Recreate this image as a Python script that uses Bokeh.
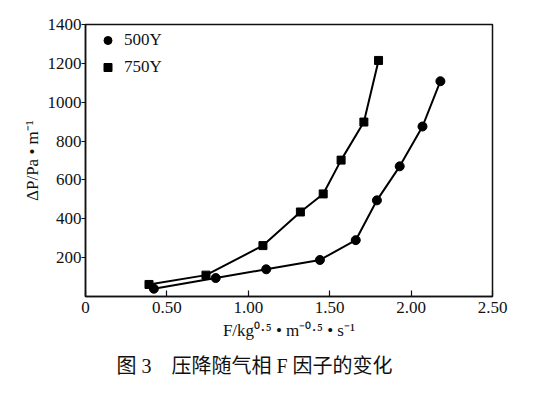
from bokeh.plotting import figure
from bokeh.models import Range1d, FixedTicker, Legend, LegendItem, Title
from bokeh.embed import file_html
from bokeh.resources import INLINE

# ---- data ----
f_500 = [0.42, 0.80, 1.11, 1.44, 1.66, 1.79, 1.93, 2.07, 2.18]
dp_500 = [40, 95, 140, 188, 290, 495, 670, 875, 1108]
f_750 = [0.39, 0.74, 1.09, 1.32, 1.46, 1.57, 1.71, 1.80]
dp_750 = [62, 110, 262, 435, 528, 702, 898, 1215]
series_names = ["500Y", "750Y"]
x_ticks = [0, 0.5, 1.0, 1.5, 2.0, 2.5]
x_tick_labels = ["0", "0.50", "1.00", "1.50", "2.00", "2.50"]
y_ticks = [200, 400, 600, 800, 1000, 1200, 1400]
y_tick_labels = ["200", "400", "600", "800", "1000", "1200", "1400"]
x_title = "F/kg⁰·⁵ • m⁻⁰·⁵ • s⁻¹"
y_title = "ΔP/Pa • m⁻¹"
caption = "图 3\u3000压降随气相 F 因子的变化"

SERIF = "Liberation Serif"
CAPTION_FONT = "Liberation Serif, Noto Sans CJK SC"
INK = "#111111"

p = figure(frame_width=407, frame_height=272,
           min_border_left=85, min_border_top=24,
           min_border_right=44, min_border_bottom=100,
           x_range=Range1d(0, 2.5), y_range=Range1d(0, 1400),
           output_backend="svg", toolbar_location=None, tools="")
p.grid.visible = False
p.outline_line_color = INK
p.outline_line_width = 1.5
p.background_fill_color = "white"
p.border_fill_color = "white"

p.xaxis.ticker = FixedTicker(ticks=x_ticks)
p.xaxis.major_label_overrides = {t: s for t, s in zip(x_ticks, x_tick_labels)}
p.yaxis.ticker = FixedTicker(ticks=y_ticks)
p.yaxis.major_label_overrides = {t: s for t, s in zip(y_ticks, y_tick_labels)}
for ax in (p.xaxis, p.yaxis):
    ax.axis_line_color = INK
    ax.axis_line_width = 1.5
    ax.major_tick_line_color = INK
    ax.major_tick_line_width = 1.2
    ax.minor_tick_line_color = None
    ax.major_label_text_font = SERIF
    ax.major_label_text_font_size = "17px"
    ax.major_label_text_color = INK
    ax.axis_label_text_font = SERIF
    ax.axis_label_text_font_size = "17px"
    ax.axis_label_text_font_style = "normal"
    ax.axis_label_text_color = INK
p.xaxis.major_tick_in = 6
p.xaxis.major_tick_out = 0
p.xaxis.major_label_standoff = 5
p.yaxis.major_tick_in = 0
p.yaxis.major_tick_out = 4
p.yaxis.major_label_standoff = 0
p.xaxis.axis_label = x_title
p.yaxis.axis_label = y_title
p.xaxis.axis_label_standoff = 5
p.yaxis.axis_label_standoff = 3

p.line(f_500, dp_500, line_color="black", line_width=2)
p.line(f_750, dp_750, line_color="black", line_width=2)
r1 = p.scatter(f_500, dp_500, marker="circle", size=9, color="black")
r2 = p.scatter(f_750, dp_750, marker="square", size=8, color="black")

legend = Legend(items=[LegendItem(label=series_names[0], renderers=[r1]),
                       LegendItem(label=series_names[1], renderers=[r2])],
                location="top_left", margin=6, padding=0,
                glyph_width=33, glyph_height=20, label_height=20,
                label_standoff=0, spacing=7,
                label_text_font=SERIF, label_text_font_size="17px",
                label_text_color=INK,
                border_line_color=None, background_fill_alpha=0)
p.add_layout(legend)

p.add_layout(Title(text=caption, align="left", offset=31, standoff=21,
                   text_font=CAPTION_FONT, text_font_size="20px",
                   text_font_style="normal", text_color=INK), "below")

open("out.html", "w").write(file_html(p, INLINE))
